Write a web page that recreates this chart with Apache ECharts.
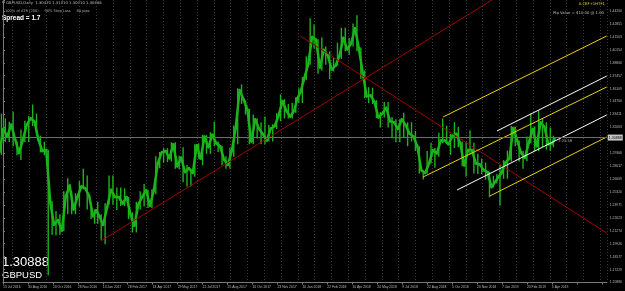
<!DOCTYPE html>
<html><head><meta charset="utf-8">
<script src="https://cdn.jsdelivr.net/npm/echarts@6/dist/echarts.min.js"></script>
<style>html,body{margin:0;padding:0;background:#000;}#c{width:625px;height:291px;}</style>
</head><body><div id="c"></div>
<script>
// weekly GBPUSD bars, first week = week of 11 Jul 2016
const firstOpen = 1.2950;
const weekLows = [1.2920,1.3055,1.3055,1.3010,1.2915,1.2865,1.3055,1.3055,1.3220,1.3120,
1.2945,1.2915,1.1663,1.2085,1.2080,1.2085,1.2125,1.2300,1.2300,1.2300,
1.2380,1.2560,1.2350,1.2250,1.2200,1.2200,1.2035,1.1986,1.2400,1.2400,
1.2345,1.2385,1.2385,1.2250,1.2110,1.2110,1.2350,1.2380,1.2365,1.2365,
1.2510,1.2780,1.2840,1.2845,1.2850,1.2775,1.2770,1.2635,1.2590,1.2590,
1.2690,1.2880,1.2810,1.2930,1.2930,1.3010,1.2950,1.2810,1.2775,1.2775,
1.2900,1.3030,1.3450,1.3340,1.3030,1.3030,1.3090,1.3030,1.3030,1.3060,
1.3060,1.3190,1.3270,1.3300,1.3300,1.3300,1.3360,1.3460,1.3460,1.3700,
1.3860,1.4030,1.3765,1.3800,1.3860,1.3710,1.3790,1.3850,1.3920,1.4000,
1.3965,1.4050,1.4000,1.3715,1.3510,1.3460,1.3450,1.3305,1.3205,1.3310,
1.3205,1.3100,1.3050,1.3050,1.3100,1.3010,1.3060,1.2960,1.2725,1.2662,
1.2725,1.2830,1.2785,1.2900,1.3040,1.3030,1.2920,1.2990,1.3000,1.2800,
1.2695,1.2920,1.2725,1.2720,1.2720,1.2660,1.2477,1.2580,1.2620,1.2392,
1.2670,1.2670,1.2850,1.3010,1.2850,1.2775,1.2855,1.3040,1.2960,1.2960,
1.3000,1.2975,1.2960,1.3000];
const weekHighs = [1.3350,1.3300,1.3265,1.3370,1.3060,1.3185,1.3275,1.3325,1.3445,1.3350,
1.3120,1.3055,1.2970,1.2435,1.2335,1.2300,1.2540,1.2675,1.2540,1.2520,
1.2645,1.2775,1.2705,1.2420,1.2350,1.2430,1.2300,1.2415,1.2705,1.2705,
1.2580,1.2580,1.2570,1.2480,1.2320,1.2430,1.2540,1.2615,1.2555,1.2560,
1.2905,1.2950,1.2990,1.2990,1.3050,1.3050,1.2910,1.3000,1.2815,1.2775,
1.3030,1.3040,1.3130,1.3125,1.3155,1.3265,1.3060,1.3015,1.2905,1.2995,
1.3225,1.3615,1.3655,1.3490,1.3400,1.3340,1.3300,1.3260,1.3320,1.3230,
1.3240,1.3355,1.3550,1.3500,1.3450,1.3460,1.3520,1.3615,1.3730,1.3945,
1.4345,1.4280,1.4125,1.4145,1.4050,1.4000,1.3930,1.4090,1.4245,1.4245,
1.4140,1.4290,1.4376,1.4040,1.3800,1.3625,1.3620,1.3490,1.3365,1.3470,
1.3470,1.3315,1.3290,1.3290,1.3360,1.3260,1.3260,1.3170,1.3010,1.2760,
1.2960,1.3045,1.2990,1.3150,1.3300,1.3225,1.3140,1.3260,1.3210,1.3060,
1.3050,1.3175,1.3045,1.2930,1.2880,1.2840,1.2745,1.2700,1.2720,1.2815,
1.2865,1.2965,1.3220,1.3215,1.3070,1.2960,1.3110,1.3350,1.3215,1.3382,
1.3300,1.3260,1.3205,1.3120];
const weekCloses = [1.3190,1.3110,1.3235,1.3085,1.2940,1.3075,1.3235,1.3300,1.3265,1.3075,
1.2960,1.2970,1.2430,1.2190,1.2240,1.2130,1.2485,1.2600,1.2350,1.2480,
1.2590,1.2570,1.2490,1.2280,1.2340,1.2280,1.2190,1.2370,1.2555,1.2480,
1.2480,1.2410,1.2480,1.2300,1.2180,1.2400,1.2480,1.2550,1.2390,1.2550,
1.2830,1.2945,1.2960,1.2885,1.3030,1.2800,1.2890,1.2740,1.2780,1.2730,
1.3020,1.2880,1.3110,1.3000,1.3130,1.3040,1.3010,1.2870,1.2815,1.2960,
1.3200,1.3595,1.3500,1.3390,1.3060,1.3290,1.3190,1.3135,1.3070,1.3195,
1.3220,1.3330,1.3480,1.3380,1.3320,1.3380,1.3510,1.3570,1.3720,1.3865,
1.4150,1.4120,1.3830,1.4015,1.3960,1.3810,1.3850,1.3950,1.4140,1.4020,
1.4080,1.4240,1.4030,1.3770,1.3530,1.3540,1.3470,1.3310,1.3350,1.3410,
1.3270,1.3260,1.3190,1.3290,1.3230,1.3140,1.3110,1.3010,1.2760,1.2730,
1.2830,1.2970,1.2935,1.3070,1.3070,1.3030,1.3120,1.3140,1.3040,1.2810,
1.2970,1.2970,1.2830,1.2820,1.2760,1.2740,1.2585,1.2640,1.2690,1.2730,
1.2840,1.2880,1.3200,1.3070,1.2940,1.2890,1.3050,1.3190,1.3010,1.3260,
1.3210,1.3030,1.3040,1.30888];
const holidayWeeks = [24,25,76,77,128,129]; // weeks with 4 bars
const lastWeekBars = 3;
const firstWeekLastBar = 0; // Fri 15 Jul 2016 = bar 0

const xTickLabels = ['15 Jul 2016','30 Aug 2016','13 Oct 2016','28 Nov 2016','13 Jan 2017','28 Feb 2017',
'13 Apr 2017','29 May 2017','12 Jul 2017','25 Aug 2017','10 Oct 2017','23 Nov 2017','10 Jan 2018',
'22 Feb 2018','10 Apr 2018','24 May 2018','9 Jul 2018','22 Aug 2018','5 Oct 2018','20 Nov 2018',
'7 Jan 2019','20 Feb 2019','5 Apr 2019'];
const xTickStep = 32;
const yTickLabels = ['1.15880','1.17229','1.18577','1.19926','1.21274','1.22623','1.23971','1.25320',
'1.26669','1.28017','1.29366','1.30714','1.32063','1.33411','1.34760','1.36109','1.37457','1.38806',
'1.40154','1.41503','1.42851','1.44200'];
const yMin = 1.15880, yStep = 0.013486, yMax = 1.45353;
const bidPrice = 1.30888;

// drawn objects: [bar, price] anchor points
const redUp    = [[125.4, 1.2021], [627.2, 1.45353]];
const redDown  = [[381.4, 1.4160], [774.4, 1.2104]];
const yellowA  = [[564.5, 1.3315], [774.4, 1.4160]];
const yellowB  = [[538.9, 1.2689], [774.4, 1.3628]];
const yellowC  = [[624.6, 1.2491], [774.4, 1.3106]];
const whiteA   = [[633.6, 1.3169], [774.4, 1.3742]];
const whiteB   = [[582.4, 1.2553], [774.4, 1.3336]];

// build week items: [firstBar, lastBar, open, close, low, high]
const weeks = [];
let lastBar = firstWeekLastBar - 5;
for (let w = 0; w < weekCloses.length; w++) {
  let n = holidayWeeks.includes(w) ? 4 : 5;
  if (w === weekCloses.length - 1) n = lastWeekBars;
  let start = lastBar + 1;
  let end = start + n - 1;
  if (w === 0) { end = firstWeekLastBar; start = end - 4; }
  lastBar = end;
  const open = w === 0 ? firstOpen : weekCloses[w - 1];
  weeks.push([start, end, open, weekCloses[w], weekLows[w], weekHighs[w]]);
}

const green = '#1cb41c';
function seg(name, pts, color) {
  return {type:'line', name, data: pts, symbol:'none', lineStyle:{color, width:1}, silent:true, z:3};
}
const chart = echarts.init(document.getElementById('c'), null, {renderer:'canvas'});
chart.setOption({
  backgroundColor:'#000',
  animation:false,
  grid:[{left:2, right:18, top:0, bottom:8.5},
        {left:12.3, right:18, top:0, bottom:8.5}],
  xAxis:[{
    type:'value', gridIndex:0, min:0, max:774.4, interval:xTickStep,
    axisLine:{show:true, lineStyle:{color:'#7a7a7a', width:1}},
    axisTick:{show:true, length:2, lineStyle:{color:'#7a7a7a'}},
    splitLine:{show:false},
    axisLabel:{show:true, align:'left', margin:3, color:'#b8b8b8', fontSize:3.4, fontFamily:'Liberation Sans',
      showMaxLabel:false,
      formatter:(v)=>{const k=Math.round(v/xTickStep); return (k>=0&&k<xTickLabels.length)?xTickLabels[k]:'';}}
  },{
    type:'value', gridIndex:1, min:0, max:594.7, interval:16.8,
    axisLine:{show:false}, axisTick:{show:false}, axisLabel:{show:false},
    splitLine:{show:true, lineStyle:{color:'#3a3a3a', type:[1,2], width:1}}
  }],
  yAxis:[{
    type:'value', gridIndex:0, position:'right', min:yMin, max:yMax, interval:yStep,
    axisLine:{show:true, lineStyle:{color:'#7a7a7a', width:1}},
    axisTick:{show:true, length:2, lineStyle:{color:'#7a7a7a'}},
    splitLine:{show:false},
    axisLabel:{show:true, margin:3, color:'#b8b8b8', fontSize:3.4, fontFamily:'Liberation Sans',
      formatter:(v)=>{const k=Math.round((v-yMin)/yStep);
        if(k<0||k>=yTickLabels.length||Math.abs(v-(yMin+k*yStep))>yStep*0.1) return '';
        if(Math.abs(v-bidPrice)<yStep*0.4) return '';
        return yTickLabels[k];}}
  },{
    type:'value', gridIndex:1, min:0, max:1, show:false, splitLine:{show:false}
  }],
  series:[
    {type:'custom', name:'GBPUSD', data:weeks, clip:false, z:2,
     renderItem:(params, api)=>{
       const s=api.value(0), e=api.value(1), mid=(s+e)/2;
       const p0=api.coord([s-0.5, api.value(2)]);
       const p1=api.coord([e+0.5, api.value(3)]);
       const lo=api.coord([mid, api.value(4)]);
       const hi=api.coord([mid, api.value(5)]);
       return {type:'group', children:[
         {type:'line', shape:{x1:p0[0],y1:p0[1],x2:p1[0],y2:p1[1]}, style:{stroke:green, lineWidth:2.5, lineCap:'round'}},
         {type:'rect', shape:{x:lo[0]-0.7, y:hi[1], width:1.4, height:lo[1]-hi[1]}, style:{fill:green}}
       ]};
     }},
    {type:'line', name:'bid', data:[], symbol:'none', z:1,
     markLine:{silent:true, symbol:'none', animation:false,
       lineStyle:{color:'#6e6e6e', type:'solid', width:1},
       label:{show:true, position:'end', formatter:bidPrice.toFixed(5), color:'#000', backgroundColor:'#c8c8c8',
         fontSize:3.6, fontFamily:'Liberation Sans', padding:[1,1,1,1], distance:1},
       data:[{yAxis:bidPrice}]}},
    seg('redUp', redUp, '#a10000'),
    seg('redDown', redDown, '#a10000'),
    seg('yellowA', yellowA, '#e8d10e'),
    seg('yellowB', yellowB, '#e8d10e'),
    seg('yellowC', yellowC, '#e8d10e'),
    seg('whiteA', whiteA, '#ffffff'),
    seg('whiteB', whiteB, '#ffffff')
  ],
  graphic:[
    {type:'text', left:2, top:1, style:{text:'▼ GBPUSD,Daily  1.30470 1.31010 1.30410 1.30888', fill:'#bdbdbd', font:'3.8px "DejaVu Sans"'}},
    {type:'text', left:5, top:9, style:{text:'100% of ATR (200)     90% Stop Loss     84 pips', fill:'#a8a8a8', font:'3.6px "DejaVu Sans"'}},
    {type:'text', left:2, top:14.5, style:{text:'Spread = 1.7', fill:'#ffffff', font:'bold 6.5px "Liberation Sans"'}},
    {type:'text', right:20, top:2, style:{text:'A.CEF+1HTF1', fill:'#e8d10e', font:'3.8px "DejaVu Sans"'}},
    {type:'text', right:21, top:11, style:{text:'Pip Value = $10.00 @ 1.00', fill:'#bdbdbd', font:'3.8px "DejaVu Sans"'}},
    {type:'text', right:53, top:139, style:{text:'2:25:59', fill:'#bdbdbd', font:'3.6px "DejaVu Sans"'}},
    {type:'text', left:2, top:256, style:{text:'1.30888', fill:'#ffffff', font:'13px "Liberation Sans"'}},
    {type:'text', left:2, top:270, style:{text:'GBPUSD', fill:'#ffffff', font:'9.5px "Liberation Sans"'}}
  ]
});
</script></body></html>
